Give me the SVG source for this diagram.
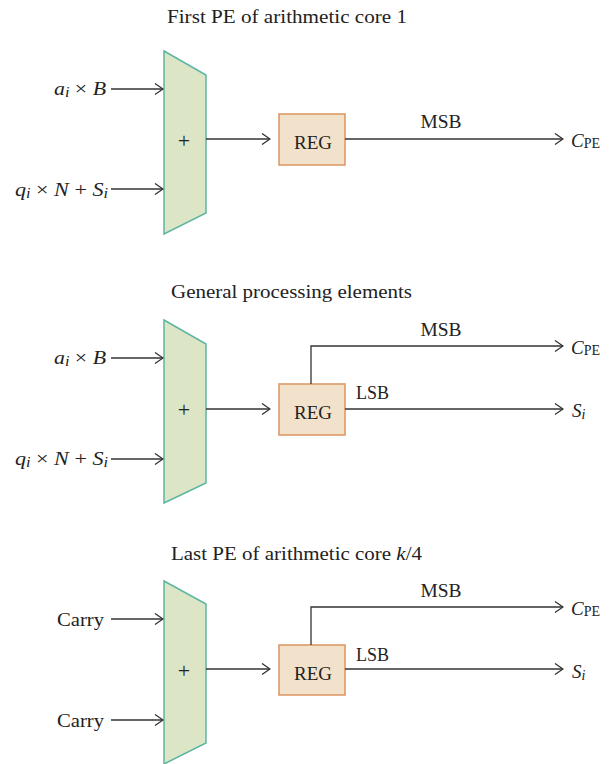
<svg xmlns="http://www.w3.org/2000/svg" width="615" height="764" viewBox="0 0 615 764">
<defs>
<marker id="ah" markerWidth="10" markerHeight="12" refX="9" refY="6" orient="auto" markerUnits="userSpaceOnUse">
<path d="M1,0.5 L9,6 L1,11.5" fill="none" stroke="#333" stroke-width="1.3"/>
</marker>
<style>
text{font-family:"Liberation Serif","Times New Roman",serif;font-size:19px;fill:#222}
.i{font-style:italic}
.sub{font-size:14px}
.p{font-size:22px}
.add{fill:#dce5c6;stroke:#5db6a0;stroke-width:1.5}
.reg{fill:#f2e2cb;stroke:#dc955f;stroke-width:1.5}
.w{fill:none;stroke:#333;stroke-width:1.3}
.a{marker-end:url(#ah)}
</style>
</defs>

<!-- Panel 1 -->
<text x="167" y="23" textLength="240" lengthAdjust="spacingAndGlyphs">First PE of arithmetic core 1</text>
<g id="add1"><path class="add" d="M164,51 L206,75 L206,213 L164,234 Z"/><text class="p" x="184" y="148" text-anchor="middle">+</text></g>
<g id="reg1"><rect class="reg" x="279" y="114" width="66" height="51"/><text x="313" y="149" text-anchor="middle" textLength="38" lengthAdjust="spacingAndGlyphs">REG</text></g>
<g id="in1a"><text x="54" y="95" textLength="52" lengthAdjust="spacingAndGlyphs"><tspan class="i">a</tspan><tspan class="i sub" dy="2">i</tspan><tspan dy="-2"> × </tspan><tspan class="i">B</tspan></text></g>
<g id="in1b"><text x="15" y="196" textLength="93" lengthAdjust="spacingAndGlyphs"><tspan class="i">q</tspan><tspan class="i sub" dy="2">i</tspan><tspan dy="-2"> × </tspan><tspan class="i">N</tspan><tspan> + </tspan><tspan class="i">S</tspan><tspan class="i sub" dy="2">i</tspan></text></g>
<g id="out1"><text x="571" y="147"><tspan class="i">C</tspan><tspan class="sub" dy="1">PE</tspan></text></g>
<text x="441" y="128" text-anchor="middle" textLength="41" lengthAdjust="spacingAndGlyphs">MSB</text>

<!-- Panel 2 -->
<text x="171" y="298" textLength="241" lengthAdjust="spacingAndGlyphs">General processing elements</text>
<g id="add2"><path class="add" d="M164,320 L206,344 L206,483 L164,503 Z"/><text class="p" x="184" y="417" text-anchor="middle">+</text></g>
<g id="reg2"><rect class="reg" x="279" y="384" width="66" height="51"/><text x="313" y="419" text-anchor="middle" textLength="38" lengthAdjust="spacingAndGlyphs">REG</text></g>
<g id="in2a"><text x="54" y="364" textLength="52" lengthAdjust="spacingAndGlyphs"><tspan class="i">a</tspan><tspan class="i sub" dy="2">i</tspan><tspan dy="-2"> × </tspan><tspan class="i">B</tspan></text></g>
<g id="in2b"><text x="15" y="465" textLength="93" lengthAdjust="spacingAndGlyphs"><tspan class="i">q</tspan><tspan class="i sub" dy="2">i</tspan><tspan dy="-2"> × </tspan><tspan class="i">N</tspan><tspan> + </tspan><tspan class="i">S</tspan><tspan class="i sub" dy="2">i</tspan></text></g>
<g id="out2a"><text x="571" y="354"><tspan class="i">C</tspan><tspan class="sub" dy="1">PE</tspan></text></g>
<g id="out2b"><text x="572" y="417"><tspan class="i">S</tspan><tspan class="i sub" dy="2">i</tspan></text></g>
<text x="441" y="336" text-anchor="middle" textLength="41" lengthAdjust="spacingAndGlyphs">MSB</text>
<text x="356" y="399" textLength="33" lengthAdjust="spacingAndGlyphs">LSB</text>

<!-- Panel 3 -->
<text x="171" y="560" textLength="251" lengthAdjust="spacingAndGlyphs">Last PE of arithmetic core <tspan class="i">k</tspan>/4</text>
<g id="add3"><path class="add" d="M164,581 L206,604 L206,743 L164,764 Z"/><text class="p" x="184" y="678" text-anchor="middle">+</text></g>
<g id="reg3"><rect class="reg" x="279" y="645" width="66" height="50"/><text x="313" y="680" text-anchor="middle" textLength="38" lengthAdjust="spacingAndGlyphs">REG</text></g>
<g id="in3a"><text x="104" y="626" text-anchor="end" textLength="47" lengthAdjust="spacingAndGlyphs">Carry</text></g>
<g id="in3b"><text x="104" y="727" text-anchor="end" textLength="47" lengthAdjust="spacingAndGlyphs">Carry</text></g>
<g id="out3a"><text x="571" y="615"><tspan class="i">C</tspan><tspan class="sub" dy="1">PE</tspan></text></g>
<g id="out3b"><text x="572" y="678"><tspan class="i">S</tspan><tspan class="i sub" dy="2">i</tspan></text></g>
<text x="441" y="597" text-anchor="middle" textLength="41" lengthAdjust="spacingAndGlyphs">MSB</text>
<text x="356" y="661" textLength="33" lengthAdjust="spacingAndGlyphs">LSB</text>

<g id="connectors">
<line class="w a" x1="111" y1="89" x2="163" y2="89"/>
<line class="w a" x1="111" y1="189" x2="163" y2="189"/>
<line class="w a" x1="206" y1="139" x2="270" y2="139"/>
<line class="w a" x1="345" y1="139" x2="563" y2="139"/>

<line class="w a" x1="111" y1="358" x2="163" y2="358"/>
<line class="w a" x1="111" y1="459" x2="163" y2="459"/>
<line class="w a" x1="206" y1="409" x2="270" y2="409"/>
<polyline class="w a" points="311,384 311,346 563,346"/>
<line class="w a" x1="345" y1="409" x2="563" y2="409"/>

<line class="w a" x1="111" y1="619" x2="163" y2="619"/>
<line class="w a" x1="111" y1="720" x2="163" y2="720"/>
<line class="w a" x1="206" y1="669" x2="270" y2="669"/>
<polyline class="w a" points="311,645 311,607 563,607"/>
<line class="w a" x1="345" y1="669" x2="563" y2="669"/>
</g>
</svg>
